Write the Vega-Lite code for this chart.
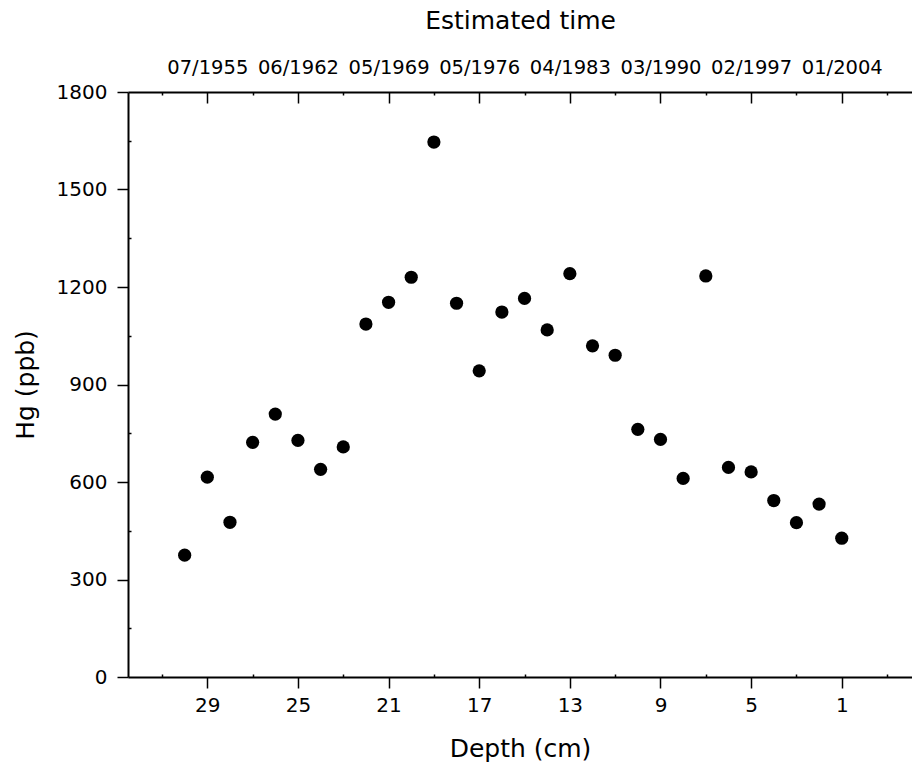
{
  "$schema": "https://vega.github.io/schema/vega-lite/v6.json",
  "width": 784,
  "height": 585,
  "autosize": "none",
  "padding": {"left": 128, "top": 92, "right": 0, "bottom": 90},
  "background": "white",
  "config": {
    "view": {"stroke": null},
    "axis": {
      "domainColor": "black", "domainWidth": 2, "tickColor": "black", "tickWidth": 1.5,
      "labelColor": "black", "titleColor": "black", "grid": false,
      "labelFont": "DejaVu Sans", "titleFont": "DejaVu Sans",
      "labelFontSize": 20, "titleFontSize": 25, "titleFontWeight": "normal"
    }
  },
  "data": {"values": [
    {"depth": 30, "hg": 375}, {"depth": 29, "hg": 615}, {"depth": 28, "hg": 476},
    {"depth": 27, "hg": 722}, {"depth": 26, "hg": 809}, {"depth": 25, "hg": 728},
    {"depth": 24, "hg": 639}, {"depth": 23, "hg": 708}, {"depth": 22, "hg": 1086},
    {"depth": 21, "hg": 1153}, {"depth": 20, "hg": 1230}, {"depth": 19, "hg": 1646},
    {"depth": 18, "hg": 1150}, {"depth": 17, "hg": 942}, {"depth": 16, "hg": 1123},
    {"depth": 15, "hg": 1165}, {"depth": 14, "hg": 1068}, {"depth": 13, "hg": 1241},
    {"depth": 12, "hg": 1019}, {"depth": 11, "hg": 990}, {"depth": 10, "hg": 762},
    {"depth": 9, "hg": 731}, {"depth": 8, "hg": 611}, {"depth": 7, "hg": 1234},
    {"depth": 6, "hg": 645}, {"depth": 5, "hg": 631}, {"depth": 4, "hg": 543},
    {"depth": 3, "hg": 475}, {"depth": 2, "hg": 532}, {"depth": 1, "hg": 427}
  ]},
  "resolve": {"axis": {"x": "independent", "y": "independent"}},
  "layer": [
    {
      "mark": {"type": "point", "filled": true, "size": 175, "color": "black", "opacity": 1},
      "encoding": {
        "x": {"field": "depth", "type": "quantitative",
          "scale": {"domain": [-2.1, 32.5], "reverse": true, "nice": false, "zero": false},
          "axis": {"orient": "bottom", "values": [29, 25, 21, 17, 13, 9, 5, 1], "tickSize": 11, "labelPadding": 7, "title": "Depth (cm)", "titlePadding": 21}},
        "y": {"field": "hg", "type": "quantitative",
          "scale": {"domain": [0, 1800], "nice": false},
          "axis": {"orient": "left", "values": [0, 300, 600, 900, 1200, 1500, 1800], "format": "d", "tickSize": 11, "labelPadding": 10, "title": "Hg (ppb)", "titlePadding": 18}}
      }
    },
    {
      "mark": {"type": "point", "opacity": 0},
      "encoding": {
        "x": {"field": "depth", "type": "quantitative",
          "axis": {"orient": "top", "values": [29, 25, 21, 17, 13, 9, 5, 1], "ticks": false, "labelPadding": 15, "labelFontSize": 19.5, "title": "Estimated time", "titlePadding": 24,
            "labelExpr": "datum.value == 29 ? '07/1955' : datum.value == 25 ? '06/1962' : datum.value == 21 ? '05/1969' : datum.value == 17 ? '05/1976' : datum.value == 13 ? '04/1983' : datum.value == 9 ? '03/1990' : datum.value == 5 ? '02/1997' : '01/2004'"}},
        "y": {"field": "hg", "type": "quantitative",
          "axis": {"orient": "left", "values": [150, 450, 750, 1050, 1350, 1650], "tickSize": -3, "labels": false, "domain": false, "title": null}}
      }
    },
    {
      "mark": {"type": "point", "opacity": 0},
      "encoding": {
        "x": {"field": "depth", "type": "quantitative",
          "axis": {"orient": "top", "values": [29, 25, 21, 17, 13, 9, 5, 1], "tickSize": -11, "labels": false, "domain": false, "title": null}},
        "y": {"field": "hg", "type": "quantitative", "axis": null}
      }
    },
    {
      "mark": {"type": "point", "opacity": 0},
      "encoding": {
        "x": {"field": "depth", "type": "quantitative",
          "axis": {"orient": "bottom", "values": [31, 27, 23, 19, 15, 11, 7, 3, -1], "tickSize": -3, "labels": false, "domain": false, "title": null}},
        "y": {"field": "hg", "type": "quantitative", "axis": null}
      }
    },
    {
      "mark": {"type": "point", "opacity": 0},
      "encoding": {
        "x": {"field": "depth", "type": "quantitative",
          "axis": {"orient": "top", "values": [31, 27, 23, 19, 15, 11, 7, 3, -1], "tickSize": -3, "labels": false, "domain": false, "title": null}},
        "y": {"field": "hg", "type": "quantitative", "axis": null}
      }
    }
  ]
}
